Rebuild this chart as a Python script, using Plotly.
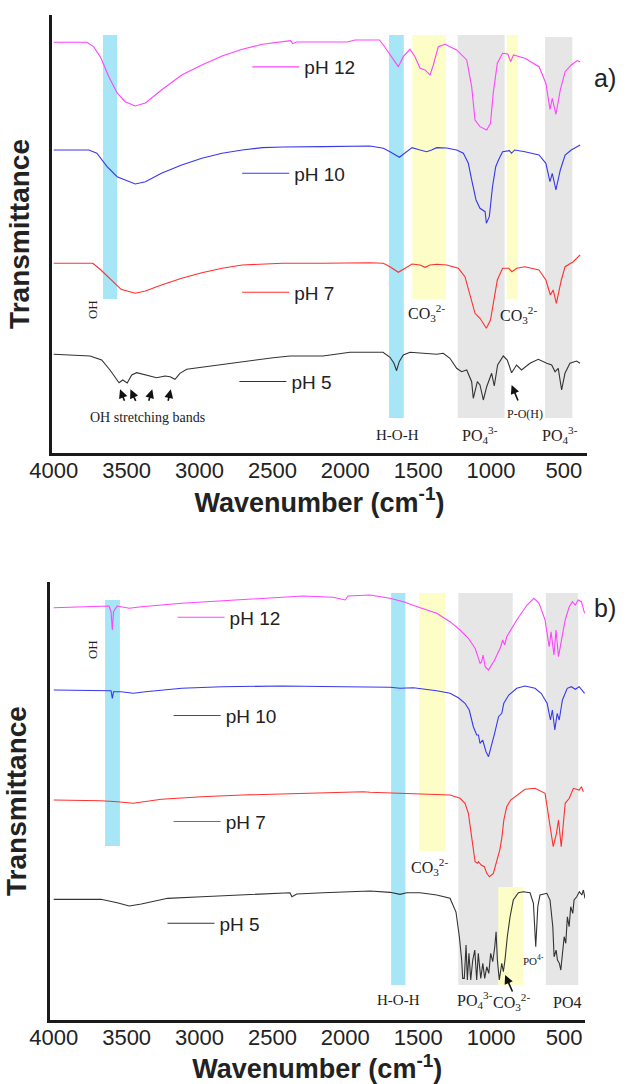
import plotly.graph_objects as go

# ---------------- DATA ----------------
series_names = ["pH 12", "pH 10", "pH 7", "pH 5"]
tick_vals = [4000, 3500, 3000, 2500, 2000, 1500, 1000, 500]

# Panel a) spectra: wavenumber (cm-1) and stacked transmittance (a.u.)
a_ph12_wn = [4000,3773,3726,3676,3621,3565,3510,3441,3371,3261,3122,2984,2845,2707,2568,2430,2375,2361,2333,2153,
             1987,1932,1830,1765,1739,1693,1636,1602,1556,1522,1487,1453,1419,1396,1362,1316,1236,1167,1133,1110,
             1076,1030,1004,985,957,921,885,866,846,768,671,624,596,580,555,525,492,450,409,389]
a_ph12_t = [410.7,410.7,406.3,395,376,360,351.3,347,350,363,378,388,397,403.7,408.7,411.3,412.3,409.3,411,411,
            411,413,413,413,408,398,386.3,396.3,403.7,396.3,384.7,383,378,388,406.3,408.7,403,393,366.3,333,
            326.3,323,329.7,360,389.7,399.7,399,391.3,398,394.7,386.3,369.7,343.7,354.7,338.7,363,381.3,388,392.3,391.3]

a_ph10_wn = [4000,3759,3704,3634,3565,3441,3371,3261,3122,2984,2845,2707,2568,2430,2153,1830,1739,1693,1629,1588,
             1542,1487,1442,1408,1373,1305,1236,1190,1156,1133,1103,1076,1041,1032,1012,990,968,949,921,874,
             860,838,768,671,624,596,580,555,525,492,450,389]
a_ph10_t = [303,303,299.7,286.3,276.3,269,271.3,279.7,288,294.7,299.7,303,305.3,306,306.3,307,304.7,301.3,295.7,300.3,
            305.3,303,301.3,303,305.3,305,303,299.7,289.7,273,253,244.7,241.3,229.7,236.3,266.3,286.3,293,301.3,302.3,
            299.7,303,301.3,298,289.7,271.3,279.7,263,283,298,303,308]

a_ph7_wn = [4000,3731,3676,3607,3538,3441,3371,3261,3122,2984,2845,2707,2430,2153,1830,1739,1693,1636,1602,1542,
            1487,1453,1419,1373,1305,1224,1179,1144,1110,1076,1041,1032,1004,985,957,921,879,857,824,768,
            671,624,593,574,552,518,492,436,389]
a_ph7_t = [189.7,189.7,183,173,163.7,159.7,162,168,174.7,180.3,184.7,188,189.7,189.7,190.3,189.7,186.3,180.7,183.7,189,
           188,185.7,188,188.7,188,184.7,176.3,156.3,139.7,134.7,126.3,124.7,133,149.7,173,184.7,184.7,181.3,184.7,186.3,
           183,173,158,163,149.7,173,186.3,191.3,198]

a_ph5_wn = [4000,3751,3671,3614,3552,3527,3496,3465,3431,3362,3294,3237,3202,3168,3134,3088,2951,2722,2494,2379,
            2153,1968,1830,1741,1693,1666,1648,1630,1602,1556,1373,1328,1282,1236,1202,1167,1133,1122,1094,1076,
            1053,1030,996,978,955,916,889,859,825,791,733,676,618,584,561,539,516,493,459,413,390]
a_ph5_t = [98.7,97,93,83,70.3,73,70,78,80.3,78,75.3,77,76.3,73.7,79.7,83.7,86.3,91.3,95.3,97,
           97,100.7,100.3,100.7,95.7,89.7,82.3,91.3,98,100.7,98.7,99.7,94.7,84.7,81.3,83,71.3,54.7,71.3,68,
           53,66.3,79.7,67,88,97,93,80.3,88,83,89.7,93.7,89.7,88,81.3,84.7,63,79.7,89.7,92,89.7]

# Panel b) spectra
b_ph12_wn = [4000,3676,3621,3607,3598,3590,3565,3482,3399,3122,2845,2568,2292,2084,2042,2001,1981,1876,1830,1693,
             1602,1487,1373,1282,1213,1156,1110,1087,1076,1065,1055,1041,1018,976,934,921,907,893,824,754,
             707,671,630,602,589,569,555,538,519,492,464,442,423,403,381,359]
b_ph12_t = [412.3,413.3,414,408.3,390,408.3,414,411.7,413.3,416.7,419.3,421.7,424,422.7,421.7,420,424,425,425,421.7,
            418.3,412.3,406.7,398.3,390,381.7,371.7,361.7,356.7,358.3,365,353.3,350,360,373.3,380,375,383.3,400,415,
            421.7,416.7,400,373.3,388.3,365,390,363.3,380,400,413.3,418.3,415,420,418.3,406.7]

b_ph10_wn = [4000,3676,3607,3598,3590,3538,3455,3371,3122,2845,2430,2015,1830,1693,1625,1533,1373,1282,1225,1179,
             1150,1122,1099,1087,1076,1058,1035,1018,976,949,927,913,879,824,768,699,657,616,593,580,
             563,547,533,511,478,450,423,396,359]
b_ph10_t = [330,330,329.3,321.7,328.3,328.3,326.7,328.3,331.7,333.3,334,333.3,333.3,332.7,331.7,332.3,329.3,326.7,322.3,316.7,
            310,293.3,285,285,276.7,280,268.3,263.3,286.7,303.3,306.7,316.7,325,331.7,334,331.7,326.7,316.7,300,310,
            290,306.7,300,320,331.7,333.3,330.7,333.3,326.7]

b_ph7_wn = [4000,3676,3565,3455,3261,2984,2707,2292,1876,1830,1625,1487,1373,1282,1213,1179,1156,1133,1110,1094,
            1087,1068,1046,1030,1018,1012,985,957,941,927,913,893,866,768,699,630,596,574,552,538,
            519,505,492,464,436,396,381,367]
b_ph7_t = [220,219.3,218.3,216.7,220.7,223.3,225,226.7,228.3,227.7,226.7,226,226,225,221.7,216.7,206.7,180,158.3,156.7,
           158.3,155,153.3,146.7,144,143.3,146.7,160,170,181.7,200,213.3,220,230.7,231.7,226.7,193.3,173.3,186.7,200,
           173.3,193.3,216.7,221.7,231.7,230,233.3,228.3]

b_ph5_wn = [4000,3676,3565,3482,3399,3219,2984,2707,2430,2380,2366,2333,2153,1876,1830,1693,1625,1579,1487,1373,
            1282,1241,1218,1202,1195,1184,1172,1163,1152,1140,1126,1112,1099,1088,1071,1057,1044,1030,1016,1003,
            989,975,966,957,944,927,916,905,889,870,848,813,779,733,710,694,680,665,618,596,
            577,568,554,545,532,522,508,499,488,477,465,454,440,431,413,395,378,367,356]
b_ph5_t = [120.7,120.7,117.3,114,116,121.7,123.3,125,126.7,127.3,123.3,126,127.3,129,129,127.7,125.7,127.3,127.3,125,
           121.7,108,83.3,60,41.7,41.7,75,40,66.7,40,60,70,40,66.7,41.7,56.7,41.7,53.3,46.7,66.7,
           58.3,73.3,88.3,60,40,56.7,48.3,60,83.3,103.3,120,127.3,128.3,127.3,116.7,73.3,113.3,125,126.7,120,
           93.3,63.3,70,60,56.7,50,70,83.3,76.7,103.3,93.3,113.3,106.7,120,123.3,128.3,125,130,121.7]

# Assignment bands: (wn_start, wn_end, t_low, t_high, kind)
a_bands = [(3662, 3565, 154, 418, "OH"), (1700, 1599, 35, 418, "HOH"), (1540, 1309, 154, 418, "CO3"),
           (1229, 907, 35, 418, "PO4"), (893, 816, 154, 418, "CO3"), (630, 442, 35, 416, "PO4")]
b_bands = [(3648, 3546, 174, 420, "OH"), (1686, 1588, 35, 427, "HOH"), (1494, 1314, 169, 427, "CO3"),
           (1225, 852, 35, 427, "PO4"), (625, 403, 35, 427, "PO4"), (951, 780, 35, 133, "CO3")]

# ---------------- STYLE ----------------
colors = ["#ff44ff", "#3838ee", "#ff3030", "#333333"]
band_colors = {"OH": "#a6e6f7", "HOH": "#a6e6f7", "CO3": "#fdfdc8", "PO4": "#e6e6e6"}
SERIF = "Liberation Serif, Times New Roman, serif"
SANS = "Liberation Sans, Arial, sans-serif"

fig = go.Figure()

panels = [
    ("x", "y", [(a_ph12_wn, a_ph12_t), (a_ph10_wn, a_ph10_t), (a_ph7_wn, a_ph7_t), (a_ph5_wn, a_ph5_t)], 0),
    ("x2", "y2", [(b_ph12_wn, b_ph12_t), (b_ph10_wn, b_ph10_t), (b_ph7_wn, b_ph7_t), (b_ph5_wn, b_ph5_t)], 4),
]
for xr, yr, spectra, lg0 in panels:
    for i, (wn, t) in enumerate(spectra):
        k = lg0 + i + 1
        fig.add_trace(go.Scatter(
            x=wn, y=t, mode="lines", name=series_names[i], xaxis=xr, yaxis=yr,
            line=dict(color=colors[i], width=1.1), showlegend=True,
            legend="legend" if k == 1 else f"legend{k}",
        ))

for xr, yr, bands in (("x", "y", a_bands), ("x2", "y2", b_bands)):
    for w0, w1, t0, t1, kind in bands:
        fig.add_shape(type="rect", xref=xr, yref=yr, x0=w0, x1=w1, y0=t0, y1=t1,
                      fillcolor=band_colors[kind], line=dict(width=0), layer="below")

# legends (one per trace, placed beside each spectrum)
leg_pos = [(0.3907, 0.9382), (0.3747, 0.8401), (0.3747, 0.7303), (0.3703, 0.6479),
           (0.2727, 0.4305), (0.2664, 0.3398), (0.2664, 0.2420), (0.2567, 0.1482)]
legend_layout = {}
for k, (lx, ly) in enumerate(leg_pos, start=1):
    legend_layout["legend" if k == 1 else f"legend{k}"] = dict(
        x=lx, y=ly, xanchor="left", yanchor="middle", bgcolor="rgba(0,0,0,0)",
        borderwidth=0, itemwidth=47, font=dict(family=SANS, size=19, color="#222"))

axis_common = dict(showgrid=False, zeroline=False, showline=True, linecolor="#1a1a1a", linewidth=2.6,
                   ticks="", tickvals=tick_vals, tickfont=dict(family=SANS, size=22, color="#222"),
                   ticklabelstandoff=-4, automargin=False,
                   title=dict(text="Wavenumber (cm<sup>-1</sup>)", standoff=8,
                              font=dict(family=SANS, size=27, color="#222", weight="bold")))
yaxis_common = dict(showgrid=False, zeroline=False, showline=True, linecolor="#1a1a1a", linewidth=2.6,
                    ticks="", showticklabels=False, range=[0, 438], automargin=False,
                    title=dict(text="Transmittance", standoff=12,
                               font=dict(family=SANS, size=28, color="#222", weight="bold")))

fig.update_layout(
    width=633, height=1084, margin=dict(l=0, r=0, t=0, b=0, autoexpand=False),
    paper_bgcolor="white", plot_bgcolor="white", showlegend=True,
    xaxis=dict(axis_common, domain=[0.0821, 0.9273], range=[4012, 342], anchor="y"),
    yaxis=dict(yaxis_common, domain=[0.5821, 0.9862], anchor="x"),
    xaxis2=dict(axis_common, domain=[0.0782, 0.9242], range=[4029, 356], anchor="y2"),
    yaxis2=dict(yaxis_common, domain=[0.0590, 0.4631], anchor="x2"),
    **legend_layout,
)

CO3 = "CO<sub>3</sub><sup>2-</sup>"
PO4 = "PO<sub>4</sub><sup>3-</sup>"
labels = [
    ("x", "y", 3730, 143, "OH", 13, -90), ("x", "y", 1440, 140, CO3, 16, 0), ("x", "y", 815, 138, CO3, 16, 0),
    ("x", "y", 3360, 35, "OH stretching bands", 14, 0), ("x", "y", 1640, 18, "H-O-H", 15, 0),
    ("x", "y", 1073, 18, PO4, 16, 0), ("x", "y", 527, 18, PO4, 16, 0), ("x", "y", 767, 39, "P-O(H)", 12, 0),
    ("x2", "y2", 3737, 370, "OH", 13, -90), ("x2", "y2", 1421, 153, CO3, 16, 0),
    ("x2", "y2", 1634, 20, "H-O-H", 15, 0), ("x2", "y2", 1110, 20, PO4, 16, 0),
    ("x2", "y2", 859, 18, CO3, 16, 0), ("x2", "y2", 481, 18, "PO4", 16, 0),
    ("x2", "y2", 710, 60, "PO<sup>4-</sup>", 11, 0),
]
for xr, yr, xv, yv, txt, sz, ang in labels:
    fig.add_annotation(x=xv, y=yv, xref=xr, yref=yr, text=txt, showarrow=False, textangle=ang,
                       font=dict(family=SERIF, size=sz, color="#222"))

arrows = [("x", "y", 3545, 63.7, 5, 13), ("x", "y", 3474, 63.7, 6, 13), ("x", "y", 3324, 63.7, -4, 13),
          ("x", "y", 3197, 63.7, -3, 13), ("x", "y", 859, 68, 7, 17), ("x2", "y2", 904, 45, 8, 18)]
for xr, yr, xv, yv, dx, dy in arrows:
    fig.add_annotation(x=xv, y=yv, xref=xr, yref=yr, text="", showarrow=True, ax=dx, ay=dy,
                       arrowhead=2, arrowsize=1.1, arrowwidth=1.6, arrowcolor="#111")

for txt, py in (("a)", 0.9431), ("b)", 0.4388)):
    fig.add_annotation(x=0.9758, y=py, xref="paper", yref="paper", text=txt, showarrow=False,
                       font=dict(family=SANS, size=25, color="#222"))

fig.write_html("out.html", config={"displayModeBar": False},
               post_script="document.body.style.margin='0';document.body.style.overflow='hidden';")
